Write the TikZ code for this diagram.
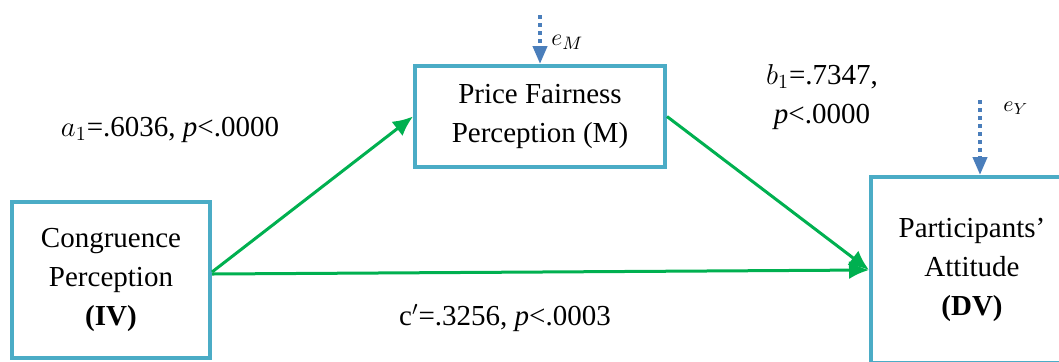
\documentclass[tikz,border=0pt]{standalone}
\usepackage{fontspec}
\setmainfont{Liberation Serif}
\usetikzlibrary{
    arrows.meta,
    positioning
}
\definecolor{boxblue}{HTML}{4BACC6}
\definecolor{pathgreen}{HTML}{00B050}
\definecolor{errblue}{HTML}{4A7EBB}
\tikzset{
    varbox/.style={
        rectangle,
        draw=boxblue,
        line width=2pt,
        align=center,
        inner sep=0pt,
        font=\fontsize{14.5}{19.5}\selectfont
    },
    arrow/.style={
        -{Latex[length=10pt,width=9pt]},
        draw=pathgreen,
        line width=1.5pt
    },
    errarrow/.style={
        -{Triangle[length=9pt,width=7pt]},
        draw=errblue,
        line width=2pt,
        dash pattern=on 2pt off 2pt
    },
    coeftext/.style={
        align=center,
        font=\fontsize{14.5}{19.5}\selectfont
    },
    errtext/.style={
        anchor=west,
        inner sep=0pt
    }
}

\begin{document}
\begin{tikzpicture}[x=0.5pt,y=-0.5pt]

\clip (0,0) rectangle (1059,361);

\node[varbox, minimum width=99pt, minimum height=78pt] (IV) at (111,280)
    {Congruence\\Perception\\\textbf{(IV)}};
\node[varbox, minimum width=125pt, minimum height=50.5pt] (M) at (540,116.5)
    {Price Fairness\\Perception (M)};
\node[varbox, minimum width=101pt, minimum height=93pt] (DV) at (972,270)
    {Participants’\\Attitude\\\textbf{(DV)}};

\draw[arrow] ([yshift=4pt]IV.east) -- (M.west);
\draw[arrow] (M.east) -- (DV.west);
\draw[arrow] ([yshift=3pt]IV.east) -- (DV.west);

% error terms
\coordinate (eMtop) at (540,15);
\coordinate (eYtop) at (980,100);
\draw[errarrow] (eMtop) -- (M.north);
\draw[errarrow] (eYtop) -- (eYtop |- DV.north);
\node[errtext, font=\fontsize{13}{15}\selectfont] (eM) at (551,42) {$e_M$};
\node[errtext, font=\fontsize{11}{13}\selectfont] (eY) at (1003,108) {$e_Y$};

% coefficients
\node[coeftext] (a1) at (170,130) {$a_1$=.6036, \textit{p}<.0000};
\node[coeftext] (b1) at (822,97) {$b_1$=.7347,\\\textit{p}<.0000};
\node[coeftext] (cp) at (505,318) {c$'$=.3256, \textit{p}<.0003};

\end{tikzpicture}
\end{document}
